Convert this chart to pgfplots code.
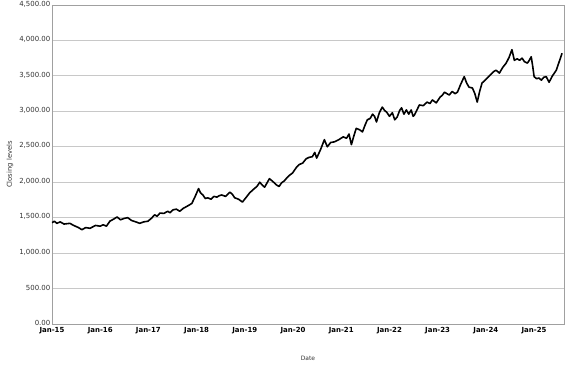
\documentclass[border=0pt]{standalone}
\usepackage{pgfplots}
\pgfplotsset{compat=1.18}
\usepackage{fontspec}
\setmainfont{DejaVu Sans}
\definecolor{gridc}{HTML}{C8C8C8}
\definecolor{axc}{HTML}{A0A0A0}
\definecolor{txtc}{HTML}{333333}
\begin{document}
\begin{tikzpicture}
\begin{axis}[
  name=main,
  scale only axis,
  width=512bp, height=319bp,
  xmin=2015, xmax=2025.62,
  ymin=0, ymax=4500,
  ytick={0,500,...,4500},
  xtick={2015,...,2025},
  xticklabels={Jan-15,Jan-16,Jan-17,Jan-18,Jan-19,Jan-20,Jan-21,Jan-22,Jan-23,Jan-24,Jan-25},
  xticklabel style={font=\fontsize{7}{8}\selectfont\bfseries, text=black, inner sep=1pt, yshift=-2pt},
  yticklabel style={font=\fontsize{7}{8}\selectfont, text=txtc, inner sep=1.5pt, yshift=1pt},
  yticklabel style={/pgf/number format/.cd, fixed, fixed zerofill, precision=2, 1000 sep={,}, assume math mode=true},
  major tick length=0pt,
  ymajorgrids,
  grid style={gridc, line width=0.8pt},
  axis line style={axc, line width=0.8pt},
  xlabel={Date},
  ylabel={Closing levels},
  xlabel style={font=\fontsize{6}{7}\selectfont, text=txtc, at={(axis description cs:0.5,-0.1066)}, anchor=center},
  ylabel style={font=\fontsize{6.8}{8}\selectfont, text=txtc, at={(axis description cs:-0.082,0.5)}, anchor=center, rotate=0},
]
\addplot[black, line width=1.6pt, line join=round] coordinates {
(2015.00,1430) (2015.05,1450) (2015.10,1420) (2015.17,1440) (2015.25,1410) (2015.37,1420)
(2015.45,1390) (2015.55,1360) (2015.62,1330) (2015.70,1360) (2015.79,1350) (2015.90,1390)
(2016.00,1380) (2016.06,1400) (2016.13,1380) (2016.20,1450) (2016.28,1480) (2016.35,1510)
(2016.42,1470) (2016.50,1490) (2016.57,1500) (2016.65,1460) (2016.74,1440) (2016.82,1420)
(2016.90,1440) (2016.99,1450) (2017.06,1490) (2017.13,1540) (2017.18,1520) (2017.24,1565)
(2017.32,1560) (2017.40,1590) (2017.45,1570) (2017.51,1610) (2017.58,1620) (2017.65,1590)
(2017.72,1630) (2017.80,1660) (2017.90,1700) (2017.97,1800) (2018.04,1910) (2018.08,1850)
(2018.13,1820) (2018.18,1770) (2018.23,1780) (2018.30,1760) (2018.36,1800) (2018.42,1790)
(2018.47,1810) (2018.52,1820) (2018.60,1800) (2018.69,1860) (2018.74,1830) (2018.79,1780)
(2018.87,1760) (2018.95,1720) (2019.02,1780) (2019.10,1850) (2019.18,1900) (2019.25,1940)
(2019.31,2000) (2019.36,1960) (2019.41,1930) (2019.46,1990) (2019.51,2050) (2019.58,2010)
(2019.66,1960) (2019.71,1940) (2019.76,1990) (2019.82,2020) (2019.87,2060) (2019.93,2100)
(2019.99,2130) (2020.03,2170) (2020.07,2210) (2020.13,2250) (2020.20,2270) (2020.27,2330)
(2020.33,2350) (2020.40,2360) (2020.45,2420) (2020.49,2340) (2020.57,2460) (2020.65,2600)
(2020.71,2500) (2020.78,2560) (2020.86,2570) (2020.95,2600) (2021.04,2640) (2021.11,2620)
(2021.16,2680) (2021.21,2530) (2021.26,2650) (2021.31,2760) (2021.38,2740) (2021.44,2710)
(2021.49,2800) (2021.54,2880) (2021.60,2900) (2021.65,2960) (2021.69,2930) (2021.73,2850)
(2021.79,2980) (2021.85,3060) (2021.90,3010) (2021.94,2990) (2022.00,2930) (2022.06,2980)
(2022.11,2880) (2022.16,2920) (2022.21,3010) (2022.25,3050) (2022.30,2960) (2022.35,3020)
(2022.40,2960) (2022.45,3020) (2022.49,2930) (2022.52,2950) (2022.57,3020) (2022.62,3090)
(2022.70,3080) (2022.78,3130) (2022.84,3110) (2022.89,3160) (2022.97,3120) (2023.05,3200)
(2023.10,3230) (2023.14,3270) (2023.19,3250) (2023.24,3230) (2023.30,3280) (2023.36,3250)
(2023.41,3270) (2023.47,3370) (2023.55,3490) (2023.60,3400) (2023.65,3340) (2023.72,3330)
(2023.77,3250) (2023.82,3130) (2023.87,3280) (2023.92,3400) (2023.97,3430) (2024.03,3470)
(2024.10,3520) (2024.16,3560) (2024.21,3580) (2024.28,3540) (2024.35,3620) (2024.42,3680)
(2024.48,3760) (2024.54,3870) (2024.59,3720) (2024.65,3740) (2024.70,3720) (2024.75,3750)
(2024.80,3700) (2024.86,3680) (2024.90,3720) (2024.94,3770) (2024.97,3640) (2025.00,3490)
(2025.05,3460) (2025.10,3470) (2025.15,3440) (2025.20,3480) (2025.25,3490) (2025.31,3410)
(2025.38,3500) (2025.46,3580) (2025.52,3700) (2025.55,3760) (2025.58,3820)
};
\end{axis}
\pgfresetboundingbox
\path[use as bounding box] ([shift={(-52bp,-43bp)}]main.south west) rectangle ([shift={(13bp,5bp)}]main.north east);
\end{tikzpicture}
\end{document}
